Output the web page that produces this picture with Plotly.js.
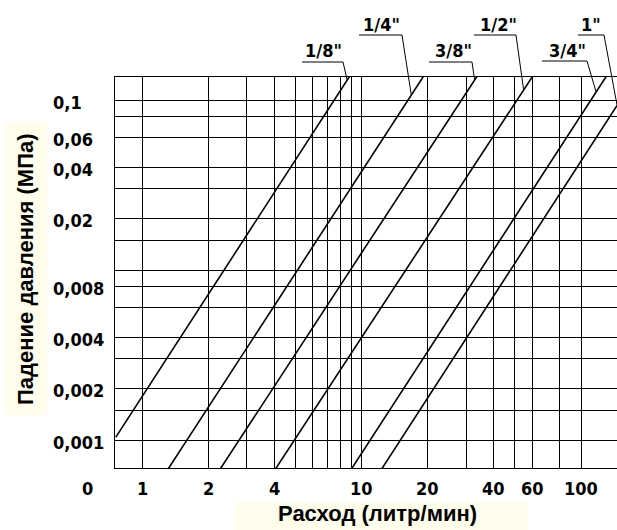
<!DOCTYPE html>
<html>
<head>
<meta charset="utf-8">
<script src="https://cdn.plot.ly/plotly-3.0.1.min.js"></script>
<style>
  html, body { margin: 0; padding: 0; background: #ffffff; }
  #chart { width: 617px; height: 530px; }
</style>
</head>
<body>
<div id="chart"></div>
<script>
// ---- data ----
const sizes = ['1/8"', '1/4"', '3/8"', '1/2"', '3/4"', '1"'];
const flowStart = [0.76, 1.32, 2.28, 4.07, 9.03, 12.4];      // литр/мин
const flowEnd   = [8.8, 19.1, 33.5, 60, 130, 146];
const dropStart = [0.00104, 0.00068, 0.00068, 0.00068, 0.00068, 0.00068]; // МПа
const dropEnd   = [0.137, 0.137, 0.137, 0.137, 0.137, 0.093];
const leaderDrop = [0.131, 0.107, 0.131, 0.1145, 0.1114, 0.093]; // where label leaders touch lines

const qTicks = [1, 2, 3, 4, 5, 6, 7, 8, 9, 10, 20, 30, 40, 50, 60, 80, 100];
const qTickText = ['1', '2', '', '4', '', '', '', '', '', '10', '20', '', '40', '', '60', '', '100'];
const pTicks = [0.001, 0.0015, 0.002, 0.003, 0.004, 0.006, 0.008, 0.01, 0.015, 0.02, 0.03, 0.04, 0.06, 0.08, 0.1];
const pTickText = ['0,001', '', '0,002', '', '0,004', '', '0,008', '', '', '0,02', '', '0,04', '0,06', '', '0,1'];

const xTitle = 'Расход (литр/мин)';
const yTitle = 'Падение давления (МПа)';

// ---- layout geometry ----
const Wf = 617, Hf = 530;
const M = { l: 115, r: 0, t: 77, b: 62 };
const PW = Wf - M.l - M.r, PH = Hf - M.t - M.b;
const xr = [-0.123, 2.164];
const yr = [-3.1647, -0.8647];

const pxX = px => (px - M.l) / PW;
const pxY = py => (M.t + PH - py) / PH;
const dX = q => (Math.log10(q) - xr[0]) / (xr[1] - xr[0]);
const dY = p => (Math.log10(p) - yr[0]) / (yr[1] - yr[0]);

const tickFont = { family: 'Liberation Sans Narrow, DejaVu Sans Condensed, sans-serif', size: 18, color: '#000', weight: 'bold' };
const titleFont = { family: 'Liberation Sans, Arial, sans-serif', size: 22, color: '#000', weight: 'bold' };

// label placement (pixels): underline x0,x1,y ; text center x,y
const labelPos = [
  { u0: 302, u1: 343, uy: 62, tx: 323, ty: 51 },
  { u0: 359, u1: 402, uy: 35, tx: 381, ty: 24 },
  { u0: 429, u1: 472, uy: 62, tx: 453, ty: 51 },
  { u0: 474, u1: 516, uy: 35, tx: 498, ty: 24 },
  { u0: 542, u1: 587, uy: 61, tx: 567, ty: 50 },
  { u0: 578, u1: 604, uy: 35, tx: 591, ty: 24 }
];

// ---- traces ----
const traces = sizes.map((s, i) => ({
  type: 'scatter', mode: 'lines', name: s,
  x: [flowStart[i], flowEnd[i]],
  y: [dropStart[i], dropEnd[i]],
  line: { color: '#000', width: 1.6 },
  hoverinfo: 'skip', showlegend: false
}));

// ---- annotations ----
const annotations = [];
qTicks.forEach((v, i) => {
  if (!qTickText[i]) return;
  annotations.push({ xref: 'x', yref: 'paper', x: Math.log10(v), y: pxY(489),
    text: qTickText[i], showarrow: false, xanchor: 'center', yanchor: 'middle', font: tickFont });
});
annotations.push({ xref: 'paper', yref: 'paper', x: pxX(87), y: pxY(489), text: '0',
  showarrow: false, xanchor: 'center', yanchor: 'middle', font: tickFont });
pTicks.forEach((v, i) => {
  if (!pTickText[i]) return;
  annotations.push({ xref: 'paper', yref: 'y', x: pxX(51), y: Math.log10(v), yshift: -2,
    text: pTickText[i], showarrow: false, xanchor: 'left', yanchor: 'middle', font: tickFont });
});
annotations.push({ xref: 'paper', yref: 'paper', x: pxX(377), y: pxY(513), text: xTitle,
  showarrow: false, xanchor: 'center', yanchor: 'middle', font: titleFont });
annotations.push({ xref: 'paper', yref: 'paper', x: pxX(25), y: pxY(269), text: yTitle, textangle: -90,
  showarrow: false, xanchor: 'center', yanchor: 'middle', font: titleFont });

// ---- shapes ----
const shapes = [
  { type: 'rect', xref: 'paper', yref: 'paper', x0: pxX(235), x1: pxX(528), y0: pxY(530), y1: pxY(502),
    fillcolor: '#fffdeb', line: { width: 0 }, layer: 'below' },
  { type: 'rect', xref: 'paper', yref: 'paper', x0: pxX(5), x1: pxX(47), y0: pxY(415), y1: pxY(122),
    fillcolor: '#fffdeb', line: { width: 0 }, layer: 'below' }
];
sizes.forEach((s, i) => {
  const p = labelPos[i];
  const lp0 = Math.log10(dropStart[i]), lp1 = Math.log10(dropEnd[i]);
  const lq0 = Math.log10(flowStart[i]), lq1 = Math.log10(flowEnd[i]);
  const lp = Math.log10(leaderDrop[i]);
  const lq = lq0 + (lp - lp0) * (lq1 - lq0) / (lp1 - lp0);
  const ex = dX(Math.pow(10, lq)), ey = dY(leaderDrop[i]);
  shapes.push({ type: 'path', xref: 'paper', yref: 'paper',
    path: `M ${pxX(p.u0)} ${pxY(p.uy)} L ${pxX(p.u1)} ${pxY(p.uy)} L ${ex} ${ey}`,
    line: { color: '#000', width: 1 } });
  annotations.push({ xref: 'paper', yref: 'paper', x: pxX(p.tx), y: pxY(p.ty), text: s,
    showarrow: false, xanchor: 'center', yanchor: 'middle', font: tickFont });
});

const axisCommon = {
  type: 'log', showgrid: true, gridcolor: '#000', gridwidth: 1,
  showline: true, linecolor: '#000', linewidth: 1,
  ticks: '', showticklabels: false, zeroline: false, fixedrange: true
};

const layout = {
  width: Wf, height: Hf,
  margin: M,
  paper_bgcolor: '#ffffff', plot_bgcolor: '#ffffff',
  showlegend: false,
  xaxis: Object.assign({}, axisCommon, { range: xr, tickvals: qTicks, mirror: true }),
  yaxis: Object.assign({}, axisCommon, { range: yr, tickvals: pTicks, mirror: false }),
  annotations: annotations,
  shapes: shapes
};

Plotly.newPlot('chart', traces, layout, { staticPlot: true, displayModeBar: false });
</script>
</body>
</html>
